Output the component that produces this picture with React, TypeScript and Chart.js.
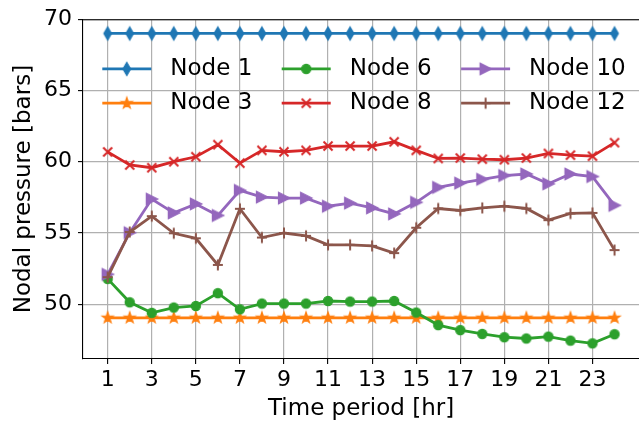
import React, { useEffect, useRef } from 'react';
import { Chart, registerables } from 'chart.js';

Chart.register(...registerables);

const hours = [1, 2, 3, 4, 5, 6, 7, 8, 9, 10, 11, 12, 13, 14, 15, 16, 17, 18, 19, 20, 21, 22, 23, 24];
const xTickValues = [1, 3, 5, 7, 9, 11, 13, 15, 17, 19, 21, 23];
const yTickValues = [50, 55, 60, 65, 70];

const seriesNames = ['Node 1', 'Node 3', 'Node 6', 'Node 8', 'Node 10', 'Node 12'];
const node1 = [69, 69, 69, 69, 69, 69, 69, 69, 69, 69, 69, 69, 69, 69, 69, 69, 69, 69, 69, 69, 69, 69, 69, 69];
const node3 = [49.05, 49.05, 49.05, 49.05, 49.05, 49.05, 49.05, 49.05, 49.05, 49.05, 49.05, 49.05, 49.05, 49.05, 49.05, 49.05, 49.05, 49.05, 49.05, 49.05, 49.05, 49.05, 49.05, 49.05];
const node6 = [51.78, 50.14, 49.4, 49.77, 49.88, 50.78, 49.65, 50.05, 50.05, 50.05, 50.23, 50.19, 50.19, 50.23, 49.42, 48.54, 48.19, 47.92, 47.69, 47.6, 47.73, 47.45, 47.26, 47.9];
const node8 = [60.69, 59.77, 59.58, 60.0, 60.35, 61.2, 59.9, 60.8, 60.7, 60.8, 61.1, 61.1, 61.1, 61.4, 60.8, 60.23, 60.26, 60.18, 60.14, 60.26, 60.58, 60.46, 60.39, 61.34];
const node10 = [52.1, 55.02, 57.38, 56.41, 57.04, 56.23, 57.99, 57.52, 57.45, 57.45, 56.88, 57.1, 56.76, 56.34, 57.15, 58.2, 58.5, 58.77, 59.03, 59.14, 58.45, 59.14, 58.96, 56.94];
const node12 = [51.9, 55.07, 56.18, 54.98, 54.63, 52.76, 56.7, 54.68, 55.0, 54.8, 54.17, 54.17, 54.1, 53.59, 55.37, 56.72, 56.58, 56.76, 56.88, 56.72, 55.9, 56.37, 56.41, 53.8];

const seriesValues = [node1, node3, node6, node8, node10, node12];
const seriesColors = ['#1f77b4', '#ff7f0e', '#2ca02c', '#d62728', '#9467bd', '#8c564b'];
const seriesMarkers = ['thinDiamond', 'star', 'circle', 'x', 'triRight', 'plus'];
// legend placement: [column, row] like matplotlib ncol=3
const legendSlots = [[0, 0], [0, 1], [1, 0], [1, 1], [2, 0], [2, 1]];

const FONT = '"DejaVu Sans", "Liberation Sans", sans-serif';

function makeMarker(kind: string, color: string): HTMLCanvasElement {
  const s = 20;
  const c = document.createElement('canvas');
  c.width = s;
  c.height = s;
  const g = c.getContext('2d')!;
  g.translate(s / 2, s / 2);
  g.fillStyle = color;
  g.strokeStyle = color;
  g.lineWidth = 1.2;
  g.beginPath();
  switch (kind) {
    case 'thinDiamond':
      g.moveTo(0, -6.5);
      g.lineTo(3.8, 0);
      g.lineTo(0, 6.5);
      g.lineTo(-3.8, 0);
      g.closePath();
      g.fill();
      g.stroke();
      break;
    case 'star':
      for (let i = 0; i < 10; i++) {
        const r = i % 2 === 0 ? 5.8 : 2.3;
        const a = -Math.PI / 2 + (i * Math.PI) / 5;
        const x = r * Math.cos(a);
        const y = r * Math.sin(a);
        if (i === 0) g.moveTo(x, y);
        else g.lineTo(x, y);
      }
      g.closePath();
      g.fill();
      g.stroke();
      break;
    case 'circle':
      g.arc(0, 0, 4.6, 0, Math.PI * 2);
      g.fill();
      g.stroke();
      break;
    case 'x':
      g.lineWidth = 2;
      g.moveTo(-4.5, -4.5);
      g.lineTo(4.5, 4.5);
      g.moveTo(4.5, -4.5);
      g.lineTo(-4.5, 4.5);
      g.stroke();
      break;
    case 'triRight':
      g.moveTo(6, 0);
      g.lineTo(-5.5, 5.8);
      g.lineTo(-5.5, -5.8);
      g.closePath();
      g.fill();
      g.stroke();
      break;
    case 'plus':
      g.lineWidth = 2;
      g.moveTo(-5, 0);
      g.lineTo(5, 0);
      g.moveTo(0, -5.5);
      g.lineTo(0, 5.5);
      g.stroke();
      break;
  }
  return c;
}

export default function App() {
  const canvasRef = useRef<HTMLCanvasElement | null>(null);

  useEffect(() => {
    const canvas = canvasRef.current;
    if (!canvas) return;
    const markers = seriesMarkers.map((m, i) => makeMarker(m, seriesColors[i]));

    const topSpine = {
      id: 'topSpine',
      afterDatasetsDraw(chart: any) {
        const { ctx, chartArea } = chart;
        ctx.save();
        ctx.strokeStyle = '#000';
        ctx.lineWidth = 1.1;
        ctx.beginPath();
        ctx.moveTo(chartArea.left, chartArea.top + 0.5);
        ctx.lineTo(chartArea.right, chartArea.top + 0.5);
        ctx.stroke();
        ctx.restore();
      },
    };

    const customLegend = {
      id: 'customLegend',
      afterDraw(chart: any) {
        const { ctx, chartArea } = chart;
        const x0 = chartArea.left + 19.3;
        const y0 = chartArea.top + 49.7;
        const colStep = 179.4;
        const rowStep = 34.3;
        const handleLen = 49;
        ctx.save();
        seriesNames.forEach((name, i) => {
          const [col, row] = legendSlots[i];
          const hx = x0 + col * colStep;
          const hy = y0 + row * rowStep;
          ctx.strokeStyle = seriesColors[i];
          ctx.lineWidth = 2.8;
          ctx.lineCap = 'butt';
          ctx.beginPath();
          ctx.moveTo(hx, hy);
          ctx.lineTo(hx + handleLen, hy);
          ctx.stroke();
          const m = markers[i];
          ctx.drawImage(m, hx + handleLen / 2 - m.width / 2, hy - m.height / 2);
          ctx.fillStyle = '#000';
          ctx.font = `23px ${FONT}`;
          ctx.textBaseline = 'middle';
          ctx.textAlign = 'left';
          ctx.fillText(name, hx + 68, hy);
        });
        ctx.restore();
      },
    };

    const datasets = seriesNames.map((name, i) => ({
      label: name,
      data: hours.map((h, j) => ({ x: h, y: seriesValues[i][j] })),
      borderColor: seriesColors[i],
      backgroundColor: seriesColors[i],
      borderWidth: 2.8,
      pointStyle: markers[i] as any,
      pointRadius: 5,
      pointHoverRadius: 5,
      tension: 0,
      fill: false,
      order: seriesNames.length - i,
    }));

    const chart = new Chart(canvas, {
      type: 'line',
      data: { datasets },
      plugins: [topSpine, customLegend],
      options: {
        animation: false,
        responsive: false,
        events: [],
        layout: { padding: { top: 16, right: 0, left: 0, bottom: 0 } },
        plugins: {
          legend: { display: false },
          tooltip: { enabled: false },
        },
        scales: {
          x: {
            type: 'linear',
            min: -0.12,
            max: 25.12,
            afterBuildTicks: (scale: any) => {
              scale.ticks = xTickValues.map((v) => ({ value: v }));
            },
            afterFit: (scale: any) => {
              scale.height = 67;
            },
            ticks: {
              autoSkip: false,
              maxRotation: 0,
              padding: 3,
              color: '#000',
              font: { family: FONT, size: 22 },
              callback: (v: any) => String(v),
            },
            grid: {
              color: '#b0b0b0',
              lineWidth: 1.2,
              tickColor: '#000',
              tickLength: 5,
              tickWidth: 1.1,
            },
            border: { display: true, color: '#000', width: 1.1 },
            title: {
              display: true,
              text: 'Time period [hr]',
              color: '#000',
              font: { family: FONT, size: 23 },
              padding: { top: 0, bottom: 3 },
            },
          },
          y: {
            type: 'linear',
            min: 46.16,
            max: 70.0,
            afterBuildTicks: (scale: any) => {
              scale.ticks = yTickValues.map((v) => ({ value: v }));
            },
            afterFit: (scale: any) => {
              scale.width = 83;
            },
            ticks: {
              padding: 6,
              color: '#000',
              font: { family: FONT, size: 22 },
              callback: (v: any) => String(v),
            },
            grid: {
              color: '#b0b0b0',
              lineWidth: 1.2,
              tickColor: '#000',
              tickLength: 5,
              tickWidth: 1.1,
            },
            border: { display: true, color: '#000', width: 1.1 },
            title: {
              display: true,
              text: 'Nodal pressure [bars]',
              color: '#000',
              font: { family: FONT, size: 23 },
              padding: { top: 10, bottom: 0 },
            },
          },
        },
      },
    });

    return () => {
      chart.destroy();
    };
  }, []);

  return (
    <div
      style={{
        position: 'fixed',
        left: 0,
        top: 0,
        width: 639,
        height: 426,
        overflow: 'hidden',
        background: '#fff',
      }}
    >
      <canvas ref={canvasRef} width={647} height={426} style={{ display: 'block' }} />
    </div>
  );
}
